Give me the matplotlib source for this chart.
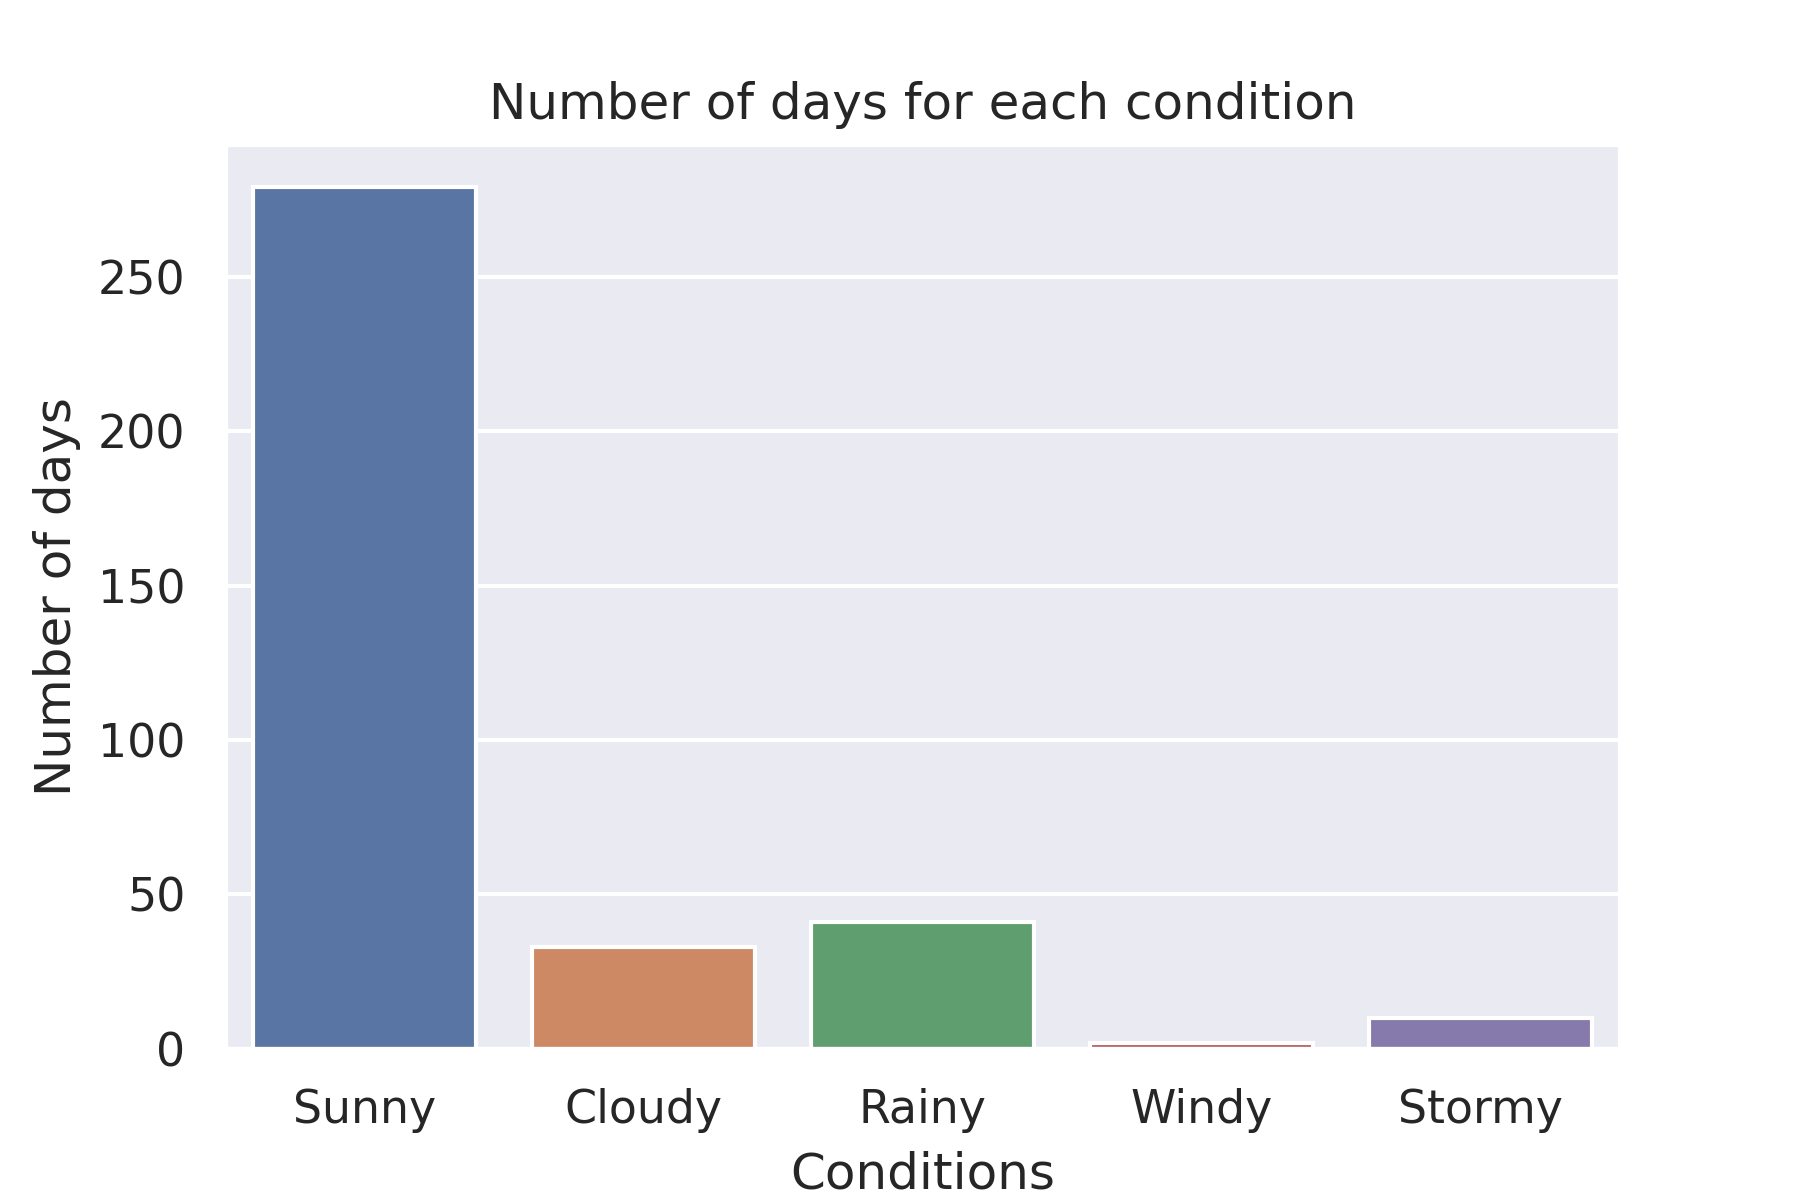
import matplotlib
matplotlib.use("Agg")
import matplotlib.pyplot as plt
import seaborn as sns

conditions = ["Sunny", "Cloudy", "Rainy", "Windy", "Stormy"]
days = [279, 33, 41, 2, 10]

sns.set_theme()

fig, ax = plt.subplots(figsize=(6, 4), dpi=300)
sns.barplot(x=conditions, y=days, hue=conditions, palette="deep",
            edgecolor="white", linewidth=1, legend=False, ax=ax)
ax.set_title("Number of days for each condition")
ax.set_xlabel("Conditions")
ax.set_ylabel("Number of days")

fig.subplots_adjust(bottom=0.126)
plt.savefig("out.png", dpi=300)
